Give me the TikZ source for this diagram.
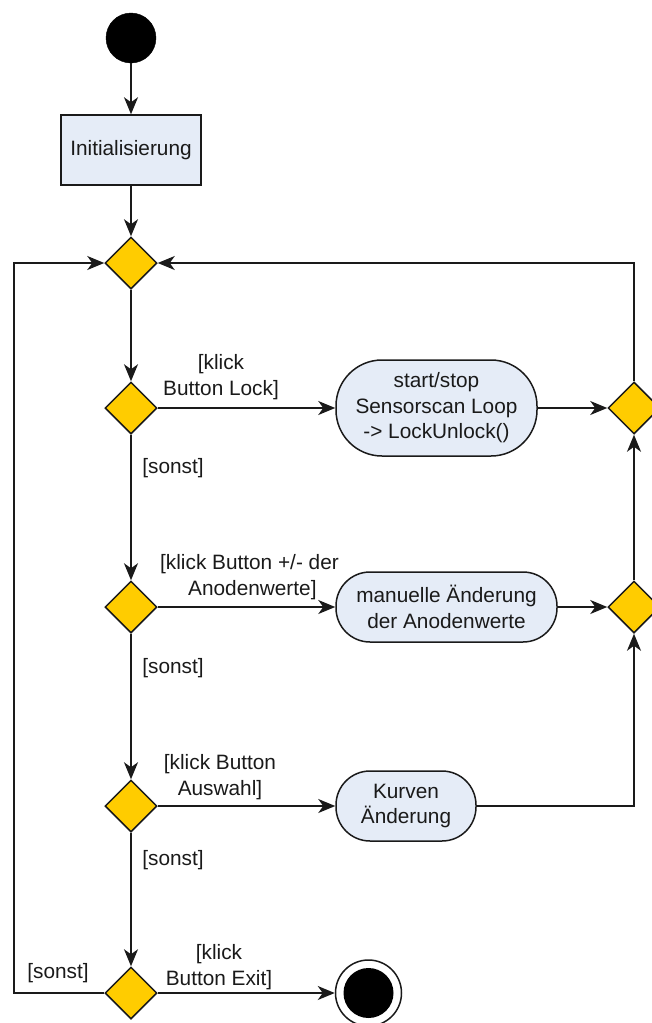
\documentclass[tikz,border=0pt]{standalone}
\usepackage{fontspec}
\setmainfont{Liberation Sans}
\usetikzlibrary{shapes.geometric,arrows.meta}

\definecolor{actfill}{HTML}{E5ECF7}
\definecolor{decfill}{HTML}{FFCC00}
\definecolor{ink}{HTML}{1A1A1A}

\tikzset{
  base/.style={draw=ink, line width=1.5pt, text=ink, font=\fontsize{20.8}{25.5}\selectfont},
  startdot/.style={circle, fill=black, draw=black, minimum size=50pt, inner sep=0pt},
  actbox/.style={base, rectangle, fill=actfill, minimum width=140pt, minimum height=70pt, inner sep=0pt, align=center},
  actround/.style={base, rectangle, fill=actfill, inner sep=0pt, align=center},
  decision/.style={base, diamond, fill=decfill, minimum width=52pt, minimum height=52pt, inner sep=0pt, shape aspect=1},
  endring/.style={circle, draw=ink, line width=1.5pt, fill=white, minimum size=66pt, inner sep=0pt},
  enddot/.style={circle, fill=black, minimum size=50pt, inner sep=0pt},
  guard/.style={text=ink, font=\fontsize{20.8}{25.5}\selectfont, align=center, inner sep=0pt},
  flow/.style={draw=ink, line width=1.5pt, -{Stealth[length=17pt, width=14pt, inset=5pt]}}
}

\begin{document}
\begin{tikzpicture}[x=1pt, y=-1pt]
\useasboundingbox (0,0) rectangle (651,1023);

% main column
\node[startdot] (start) at (131,38) {};
\node[actbox] (init) at (131,150) {Initialisierung};
\node[decision] (merge) at (131,263) {};
\node[decision] (dlock) at (131,408) {};
\node[decision] (danode) at (131,607) {};
\node[decision] (dcurve) at (131,806) {};
\node[decision] (dexit) at (131,993) {};

% actions
\node[actround, rounded corners=46pt, minimum width=201pt, minimum height=96pt] (lock) at (436.5,408)
  {start/stop\\Sensorscan Loop\\-> LockUnlock()};
\node[actround, rounded corners=34pt, minimum width=221pt, minimum height=70pt] (anode) at (446.5,607)
  {manuelle Änderung\\der Anodenwerte};
\node[actround, rounded corners=34pt, minimum width=140pt, minimum height=70pt] (curve) at (406,806)
  {Kurven\\Änderung};

% right-hand merges
\node[decision] (rlock) at (634,408) {};
\node[decision] (ranode) at (634,607) {};

% final state
\node[endring] (final) at (368.5,993) {};
\node[enddot] (finaldot) at (final.center) {};

\coordinate (back) at (14,993);

% flows
\draw[flow] (start) -- (init);
\draw[flow] (init) -- (merge);
\draw[flow] (merge) -- (dlock);
\draw[flow] (dlock) -- (danode);
\draw[flow] (danode) -- (dcurve);
\draw[flow] (dcurve) -- (dexit);
\draw[flow] (dlock) -- (lock);
\draw[flow] (danode) -- (anode);
\draw[flow] (dcurve) -- (curve);
\draw[flow] (dexit) -- (final);
\draw[flow] (lock) -- (rlock);
\draw[flow] (anode) -- (ranode);
\draw[flow] (curve.east) -| (ranode.south);
\draw[flow] (ranode) -- (rlock);
\draw[flow] (rlock.north) |- (merge.east);
\draw[flow] (dexit.west) -- (back) |- (merge.west);

% guards
\node[guard] (g1) at (221,377) {[klick\\Button Lock]};
\node[guard] (g1s) at (173,468) {[sonst]};
\node[guard] (g2) at (249.5,577) {[klick Button +/- der\\\phantom{[}Anodenwerte]};
\node[guard] (g2s) at (173,668) {[sonst]};
\node[guard] (g3) at (220,777) {[klick Button\\Auswahl]};
\node[guard] (g3s) at (173,860) {[sonst]};
\node[guard] (g4) at (219,967) {[klick\\Button Exit]};
\node[guard] (g4s) at (58,973) {[sonst]};
\end{tikzpicture}
\end{document}
